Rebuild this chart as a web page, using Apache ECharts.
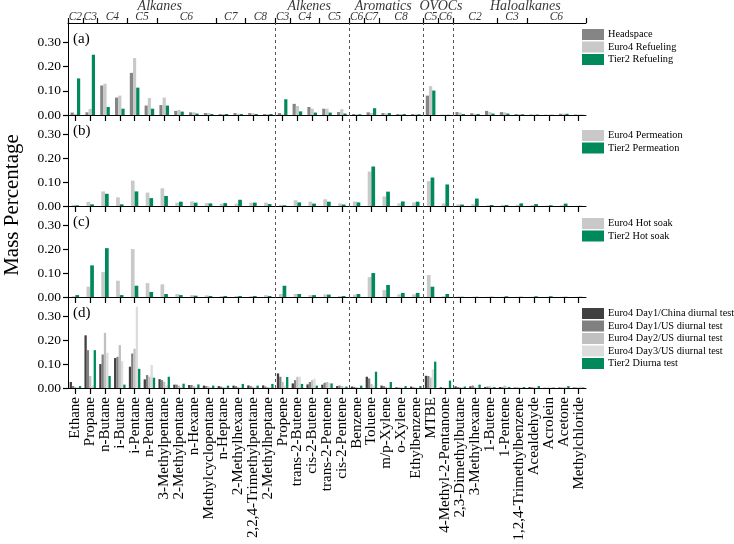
<!DOCTYPE html>
<html>
<head>
<meta charset="utf-8">
<script src="https://cdn.jsdelivr.net/npm/echarts@6/dist/echarts.min.js"></script>
<style>html,body{margin:0;padding:0;background:#fff;}#c{width:734px;height:544px;}</style>
</head>
<body>
<div id="c"></div>
<script>
var categories = ['Ethane','Propane','n-Butane','i-Butane','i-Pentane','n-Pentane','3-Methylpentane','2-Methylpentane','n-Hexane','Methylcyclopentane','n-Heptane','2-Methylhexane','2,2,4-Trimethylpentane','2-Methylheptane','Propene','trans-2-Butene','cis-2-Butene','trans-2-Pentene','cis-2-Pentene','Benzene','Toluene','m/p-Xylene','o-Xylene','Ethylbenzene','MTBE','4-Methyl-2-Pentanone','2,3-Dimethylbutane','3-Methylhexane','1-Butene','1-Pentene','1,2,4-Trimethylbenzene','Acealdehyde','Acrolein','Acetone','Methylchloride'];

// Panel (a)
var headspace   = [0.010,0.011,0.122,0.072,0.174,0.039,0.041,0.017,0.011,0.008,0.004,0.008,0.008,0.004, 0.008,0.046,0.033,0.026,0.012, 0.004,0.011,0.008,0.004,0.004, 0.080,0.001, 0.012,0.007,0.017,0.012,0.004,0.002,0.001,0.005,0.002];
var euro4Refuel = [0.004,0.025,0.129,0.080,0.235,0.070,0.072,0.021,0.011,0.008,0.004,0.005,0.007,0.004, 0.003,0.037,0.026,0.026,0.024, 0.003,0.008,0.006,0.004,0.003, 0.119,0.001, 0.010,0.005,0.012,0.011,0.003,0.002,0.001,0.005,0.002];
var tier2Refuel = [0.151,0.249,0.033,0.026,0.113,0.026,0.039,0.014,0.006,0.004,0.004,0.004,0.004,0.004, 0.065,0.015,0.010,0.010,0.006, 0.003,0.028,0.008,0.004,0.003, 0.101,0.001, 0.004,0.004,0.006,0.006,0.003,0.002,0.001,0.005,0.001];
// Panel (b)
var euro4Perm = [0.005,0.017,0.061,0.036,0.106,0.056,0.074,0.014,0.019,0.012,0.010,0.010,0.014,0.014, 0.005,0.024,0.018,0.028,0.010, 0.019,0.144,0.040,0.011,0.015, 0.104,0.011, 0.007,0.008,0.003,0.005,0.005,0.004,0.002,0.003,0.001];
var tier2Perm = [0.003,0.007,0.051,0.007,0.061,0.033,0.042,0.018,0.014,0.011,0.012,0.026,0.014,0.008, 0.003,0.015,0.010,0.018,0.006, 0.015,0.165,0.060,0.019,0.018, 0.119,0.090, 0.006,0.031,0.004,0.004,0.011,0.008,0.003,0.010,0.001];
// Panel (c)
var euro4Hot = [0.003,0.043,0.104,0.068,0.200,0.058,0.053,0.0125,0.008,0.007,0.004,0.004,0.004,0.008, 0.0125,0.0125,0.008,0.011,0.004, 0.010,0.083,0.029,0.011,0.011, 0.092,0.003, 0.002,0.001,0.001,0.001,0.001,0.001,0.001,0.001,0.001];
var tier2Hot = [0.008,0.132,0.204,0.008,0.047,0.021,0.0125,0.008,0.0055,0.004,0.004,0.004,0.004,0.004, 0.047,0.0125,0.008,0.010,0.004, 0.0125,0.100,0.050,0.017,0.017, 0.043,0.0125, 0.001,0.001,0.001,0.003,0.001,0.003,0.003,0.001,0.001];
// Panel (d)
var d1China = [0.025,0.220,0.100,0.125,0.089,0.036,0.037,0.014,0.0125,0.010,0.008,0.010,0.011,0.011, 0.061,0.019,0.015,0.014,0.008, 0.006,0.047,0.010,0.003,0.006, 0.051,0.003, 0.007,0.007,0.004,0.004,0.002,0.004,0.001,0.002,0.002];
var d1US    = [0.008,0.158,0.140,0.130,0.144,0.054,0.033,0.014,0.0125,0.008,0.006,0.008,0.008,0.006, 0.047,0.033,0.025,0.022,0.010, 0.005,0.040,0.008,0.002,0.003, 0.050,0.001, 0.004,0.010,0.006,0.004,0.002,0.003,0.001,0.002,0.002];
var d2US    = [0.004,0.050,0.230,0.179,0.164,0.047,0.026,0.010,0.008,0.006,0.004,0.005,0.005,0.004, 0.026,0.047,0.033,0.025,0.008, 0.003,0.017,0.005,0.002,0.002, 0.044,0.001, 0.004,0.004,0.007,0.010,0.003,0.003,0.002,0.003,0.003];
var d3US    = [0.002,0.010,0.147,0.112,0.339,0.096,0.010,0.005,0.004,0.003,0.003,0.003,0.003,0.003, 0.010,0.047,0.039,0.022,0.005, 0.002,0.008,0.003,0.001,0.001, 0.078,0.001, 0.003,0.003,0.005,0.006,0.003,0.002,0.003,0.004,0.008];
var tier2Diurnal = [0.008,0.158,0.050,0.014,0.080,0.043,0.047,0.018,0.015,0.010,0.010,0.017,0.010,0.017, 0.046,0.017,0.010,0.019,0.006, 0.010,0.068,0.025,0.008,0.008, 0.110,0.031, 0.006,0.014,0.004,0.004,0.004,0.008,0.002,0.008,0.002];

// Header groups
var groupNames   = ['Alkanes','Alkenes','Aromatics','OVOCs','Haloalkanes'];
var groupCenters = [6.2,16.3,21.3,25.2,30.9];
var subNames  = ['C2','C3','C4','C5','C6','C7','C8','C3','C4','C5','C6','C7','C8','C5','C6','C2','C3','C6'];
var subStarts = [0,1,2,4,6,10,12,14,15,17,19,20,21,24,25,26,29,31];
var dividers = [14,19,24,26];
var yTicks = ['0.00','0.10','0.20','0.30'];

var FONT = 'Liberation Serif';
var GREEN = '#00895a';
var panels = [
  {letter:'(a)', names:['Headspace','Euro4 Refueling','Tier2 Refueling'], data:[headspace,euro4Refuel,tier2Refuel], colors:['#858585','#c9c9c9',GREEN], bw:3.2, legendTop:29},
  {letter:'(b)', names:['Euro4 Permeation','Tier2 Permeation'], data:[euro4Perm,tier2Perm], colors:['#c9c9c9',GREEN], bw:3.7, legendTop:130},
  {letter:'(c)', names:['Euro4 Hot soak','Tier2 Hot soak'], data:[euro4Hot,tier2Hot], colors:['#c9c9c9',GREEN], bw:3.7, legendTop:218},
  {letter:'(d)', names:['Euro4 Day1/China diurnal test','Euro4 Day1/US diurnal test','Euro4 Day2/US diurnal test','Euro4 Day3/US diurnal test','Tier2 Diurna test'], data:[d1China,d1US,d2US,d3US,tier2Diurnal], colors:['#404040','#808080','#c0c0c0','#dcdcdc',GREEN], bw:2.3, legendTop:308}
];
var tops = [23,115,206,297], heights = [92,91,91,91], L = 68, R = 148;

var grids = [], xAxes = [], yAxes = [], series = [], legends = [], graphics = [];
panels.forEach(function(p, i){
  grids.push({left:L, right:R, top:tops[i], height:heights[i], containLabel:false, outerBoundsMode:'none'});
  xAxes.push({type:'category', gridIndex:i, data:categories, boundaryGap:true,
    axisLine:{show:true, lineStyle:{color:'#000', width:1}},
    axisTick:{show:true, alignWithLabel:true, length:6, inside:false, lineStyle:{color:'#000', width:1.2}},
    axisLabel:{show:i===3, rotate:90, interval:0, fontFamily:FONT, fontSize:15, color:'#000', margin:9, hideOverlap:false},
    splitLine:{show:false}});
  yAxes.push({type:'value', gridIndex:i, min:0, max:0.38, interval:0.1,
    axisLine:{show:true, lineStyle:{color:'#000', width:1}},
    axisTick:{show:true, length:5, lineStyle:{color:'#000', width:1.2}},
    axisLabel:{fontFamily:FONT, fontSize:13.5, color:'#000', margin:7, showMaxLabel:false,
      formatter:function(v){ var s=v.toFixed(2); return yTicks.indexOf(s)>=0 ? s : ''; }},
    splitLine:{show:false}});
  p.names.forEach(function(n, k){
    series.push({type:'bar', name:n, xAxisIndex:i, yAxisIndex:i, data:p.data[k],
      barWidth:p.bw, barGap:'0%', itemStyle:{color:p.colors[k]}, emphasis:{disabled:true}, silent:true});
  });
  legends.push({data:p.names, orient:'vertical', left:582, top:p.legendTop, itemWidth:22, itemHeight:11, itemGap:1.5,
    icon:'rect', selectedMode:false, padding:0, textStyle:{fontFamily:FONT, fontSize:10.3, color:'#000', padding:[0,0,0,-1]}});
  graphics.push({type:'text', left:73, top:tops[i]+9, style:{text:p.letter, font:'15px "Liberation Serif"', fill:'#000'}});
});
// hidden value axes for divider lines (index 4..7)
panels.forEach(function(p, i){
  xAxes.push({type:'value', gridIndex:i, min:0, max:35, show:false});
  series.push({type:'line', xAxisIndex:4+i, yAxisIndex:i, data:[], silent:true,
    markLine:{silent:true, symbol:['none','none'], label:{show:false},
      lineStyle:{type:[3,3], color:'#555', width:1},
      data:dividers.map(function(v){ return {xAxis:v}; })}});
});
// top axis with group separators (index 8)
var sepSet = {};
subStarts.forEach(function(s){ sepSet[s]=true; });
xAxes.push({type:'category', gridIndex:0, position:'top', data:categories, boundaryGap:true,
  axisLine:{show:true, lineStyle:{color:'#000', width:1}},
  axisTick:{show:true, length:5, inside:false, interval:function(idx){ return !!sepSet[idx]; }, lineStyle:{color:'#000', width:1.2}},
  axisLabel:{show:false}});
// header grid (index 4)
grids.push({left:L, right:R, top:0, height:23, containLabel:false, outerBoundsMode:'none'});
xAxes.push({type:'value', gridIndex:4, min:0, max:35, show:false});
yAxes.push({type:'value', gridIndex:4, min:0, max:2, show:false});
function centers(starts){ return starts.map(function(s, k){ var e = k+1<starts.length ? starts[k+1] : 35; return (s+e)/2; }); }
var subC = centers(subStarts);
series.push({type:'scatter', xAxisIndex:9, yAxisIndex:4, symbolSize:0, silent:true,
  data:subNames.map(function(n,k){ return [subC[k], 0.5, n]; }),
  label:{show:true, position:'inside', formatter:function(q){ return q.data[2]; }, fontFamily:FONT, fontStyle:'italic', fontSize:11.5, color:'#000'}});
series.push({type:'scatter', xAxisIndex:9, yAxisIndex:4, symbolSize:0, silent:true,
  data:groupNames.map(function(n,k){ return [groupCenters[k], 1.45, n]; }),
  label:{show:true, position:'inside', formatter:function(q){ return q.data[2]; }, fontFamily:FONT, fontStyle:'italic', fontSize:14, color:'#000'}});

graphics.push({type:'text', x:12, y:205, rotation:Math.PI/2,
  style:{text:'Mass Percentage', font:'21px "Liberation Serif"', fill:'#000', align:'center', verticalAlign:'middle'}});

var chart = echarts.init(document.getElementById('c'), null, {renderer:'canvas'});
chart.setOption({
  animation:false, backgroundColor:'#fff',
  grid:grids, xAxis:xAxes, yAxis:yAxes, legend:legends, series:series, graphic:graphics
});
</script>
</body>
</html>
